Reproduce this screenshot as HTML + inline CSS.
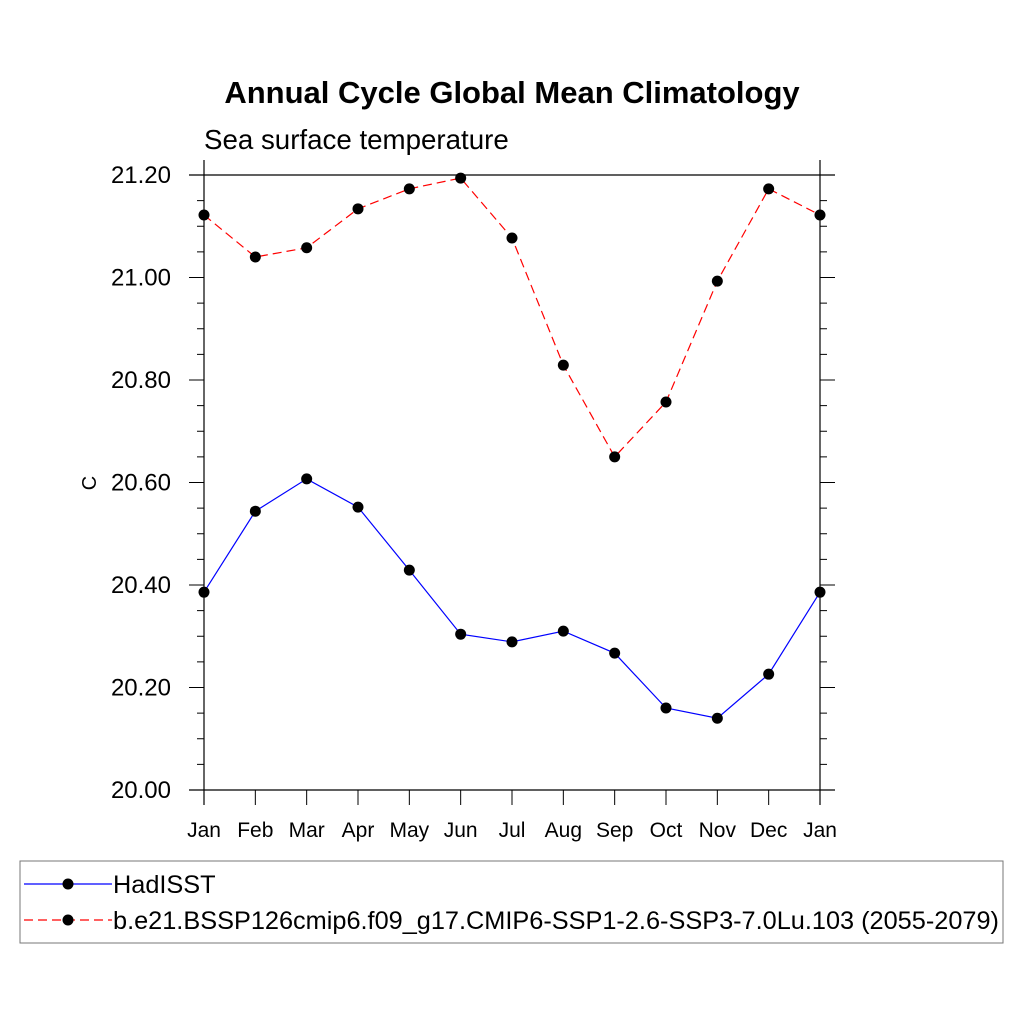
<!DOCTYPE html>
<html><head><meta charset="utf-8"><style>
body{margin:0;background:#fff}
svg text{font-family:"Liberation Sans",sans-serif}
</style></head><body>
<svg id="c" width="1024" height="1024" xmlns="http://www.w3.org/2000/svg">
<text x="512" y="103" text-anchor="middle" font-size="31" font-weight="bold">Annual Cycle Global Mean Climatology</text>
<text x="204" y="149" font-size="27.7">Sea surface temperature</text>
<text x="96" y="483" font-size="20" text-anchor="middle" transform="rotate(-90 96 483)">C</text>
<g id="axes"></g><g id="series"></g>
<rect x="20" y="861" width="983" height="82" fill="none" stroke="#777" stroke-width="1"/>
<g id="legend"></g>
</svg>
<script>
const months=["Jan","Feb","Mar","Apr","May","Jun","Jul","Aug","Sep","Oct","Nov","Dec","Jan"];
const hadisst=[20.386,20.544,20.607,20.552,20.429,20.304,20.289,20.310,20.267,20.160,20.140,20.226,20.386];
const model=[21.122,21.040,21.058,21.134,21.173,21.194,21.077,20.829,20.650,20.757,20.993,21.173,21.122];
const yTicks=[20.0,20.2,20.4,20.6,20.8,21.0,21.2];
const seriesNames=["HadISST","b.e21.BSSP126cmip6.f09_g17.CMIP6-SSP1-2.6-SSP3-7.0Lu.103 (2055-2079)"];
const X0=204,X1=820,Y0=790,Y1=175,ymin=20.0,ymax=21.2;
const xs=i=>X0+(X1-X0)*i/(months.length-1);
const ys=v=>Y0-(v-ymin)/(ymax-ymin)*(Y0-Y1);
const NS="http://www.w3.org/2000/svg";
function mk(p,t,a){const e=document.createElementNS(NS,t);for(const k in a)e.setAttribute(k,a[k]);p.appendChild(e);return e;}
const ax=document.getElementById('axes');
[[X0-15,Y1,X1+15,Y1,'top-axis'],[X0-15,Y0,X1+15,Y0,'bottom-axis'],[X0,Y1-15,X0,Y0+15,'left-axis'],[X1,Y1-15,X1,Y0+15,'right-axis']].forEach(a=>{
 const l=mk(ax,'line',{x1:a[0],y1:a[1],x2:a[2],y2:a[3],stroke:'#000','stroke-width':1.2});
 
 
});
for(let v=ymin;v<=ymax+1e-9;v+=0.05){
 const y=ys(v);const maj=Math.abs(Math.round(v*5)-v*5)<1e-6;const L=maj?15:7;
 const t1=mk(ax,'line',{x1:X0-L,x2:X0,y1:y,y2:y,stroke:'#000','stroke-width':1});
 
 
 const t2=mk(ax,'line',{x1:X1,x2:X1+L,y1:y,y2:y,stroke:'#000','stroke-width':1});
 
 
}
yTicks.forEach(v=>{const t=mk(ax,'text',{x:X0-33,y:ys(v)+8,'text-anchor':'end','font-size':24});t.textContent=v.toFixed(2);
 
 });
months.forEach((m,i)=>{const x=xs(i);
 const a=mk(ax,'line',{x1:x,x2:x,y1:Y0,y2:Y0+15,stroke:'#000','stroke-width':1});
 
 
 const t=mk(ax,'text',{x:x,y:837,'text-anchor':'middle','font-size':21});t.textContent=m;
 
 });
const sg=document.getElementById('series');
function draw(vals,col,dash,name){
 const pl=mk(sg,'polyline',{points:vals.map((v,i)=>xs(i)+','+ys(v)).join(' '),fill:'none',stroke:col,'stroke-width':1.2,'stroke-dasharray':dash});
 
 
 vals.forEach((v,i)=>{const c=mk(sg,'circle',{cx:xs(i),cy:ys(v),r:5.5,fill:'#000'});
  
  });
}
draw(hadisst,'#00f','none','hadisst');
draw(model,'#f00','9 5','model');
const lg=document.getElementById('legend');
[[884,'#00f','none'],[920,'#f00','9 5']].forEach((e,i)=>{
 const l=mk(lg,'line',{x1:24,x2:112,y1:e[0],y2:e[0],stroke:e[1],'stroke-width':1.2,'stroke-dasharray':e[2]});
 
 
 const c=mk(lg,'circle',{cx:68,cy:e[0],r:5.5,fill:'#000'});
 
 
 const t=mk(lg,'text',{x:113,y:e[0]+9,'font-size':25.3});t.textContent=seriesNames[i];
 
 
});
</script>
</body></html>
